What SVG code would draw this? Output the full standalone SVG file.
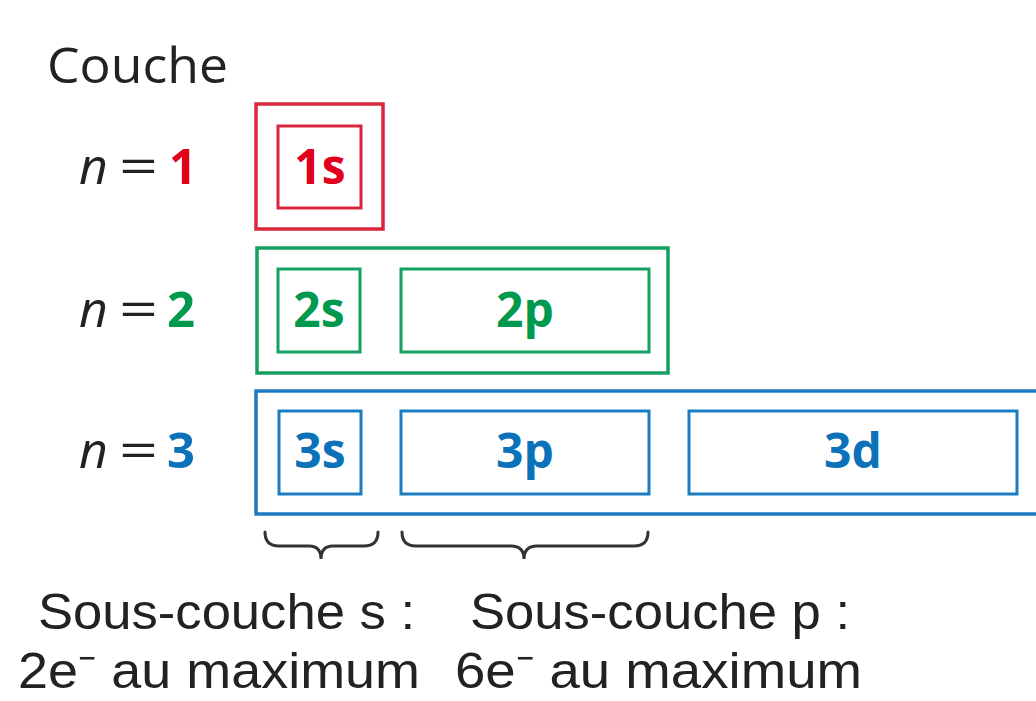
<svg xmlns="http://www.w3.org/2000/svg" width="1036" height="701" viewBox="0 0 1036 701">
<style>
  text { font-family: "Open Sans", "Noto Sans", sans-serif; }
  .lbl { font-size: 50px; fill: #222; }
  .it { font-style: italic; }
  .num { font-weight: bold; font-size: 49px; }
  .sub { font-weight: bold; font-size: 48px; text-anchor: middle; }
  .red { fill: #e2001a; } .green { fill: #00994d; } .blue { fill: #0b72ba; }
  .rs { fill: none; stroke: #d7263d; }
  .gs { fill: none; stroke: #13a060; }
  .bs { fill: none; stroke: #1c7cc0; }
  .outer { stroke-width: 3.5; }
  .inner { stroke-width: 3; }
  .brace { fill: none; stroke: #333; stroke-width: 3; stroke-linecap: round; }
  .bot { font-family: "Liberation Sans", Arial, sans-serif; font-size: 50px; fill: #222; }
</style>
<rect width="1036" height="701" fill="#fff"/>
<text x="47" y="83" class="lbl" textLength="181" lengthAdjust="spacingAndGlyphs">Couche</text>

<g id="n1">
  <text x="79" y="184" class="lbl it">n</text>
  <text x="119" y="184" class="lbl" textLength="39" lengthAdjust="spacingAndGlyphs">=</text>
  <text x="169" y="184" class="num red">1</text>
  <rect x="256" y="104" width="127" height="125" class="rs outer"/>
  <rect x="278" y="126" width="83" height="82" class="rs inner"/>
  <text x="320" y="184" class="sub red">1s</text>
</g>

<g id="n2">
  <text x="79" y="327" class="lbl it">n</text>
  <text x="119" y="327" class="lbl" textLength="39" lengthAdjust="spacingAndGlyphs">=</text>
  <text x="167" y="327" class="num green">2</text>
  <rect x="257" y="248" width="411" height="125" class="gs outer"/>
  <rect x="278" y="269" width="82" height="83" class="gs inner"/>
  <rect x="401" y="269" width="248" height="83" class="gs inner"/>
  <text x="319" y="327" class="sub green">2s</text>
  <text x="525" y="327" class="sub green">2p</text>
</g>

<g id="n3">
  <text x="79" y="468" class="lbl it">n</text>
  <text x="119" y="468" class="lbl" textLength="39" lengthAdjust="spacingAndGlyphs">=</text>
  <text x="167" y="468" class="num blue">3</text>
  <rect x="256" y="391" width="790" height="123" class="bs outer"/>
  <rect x="279" y="411" width="82" height="83" class="bs inner"/>
  <rect x="401" y="411" width="248" height="83" class="bs inner"/>
  <rect x="689" y="411" width="328" height="83" class="bs inner"/>
  <text x="320" y="468" class="sub blue">3s</text>
  <text x="525" y="468" class="sub blue">3p</text>
  <text x="853" y="468" class="sub blue">3d</text>
</g>

<g id="connectors">
  <path class="brace" d="M265,532 Q265,546 279,546 L309,546 Q321,546 321,559 Q321,546 333,546 L364,546 Q378,546 378,532"/>
  <path class="brace" d="M402,532 Q402,546 416,546 L511,546 Q524,546 524,559 Q524,546 537,546 L634,546 Q648,546 648,532"/>
</g>

<g id="legend">
  <text x="38" y="629" class="bot" textLength="377" lengthAdjust="spacingAndGlyphs">Sous-couche s :</text>
  <text x="470" y="629" class="bot" textLength="380" lengthAdjust="spacingAndGlyphs">Sous-couche p :</text>
  <text x="18" y="688" class="bot" textLength="402" lengthAdjust="spacingAndGlyphs">2e⁻ au maximum</text>
  <text x="455" y="688" class="bot" textLength="407" lengthAdjust="spacingAndGlyphs">6e⁻ au maximum</text>
</g>
</svg>
